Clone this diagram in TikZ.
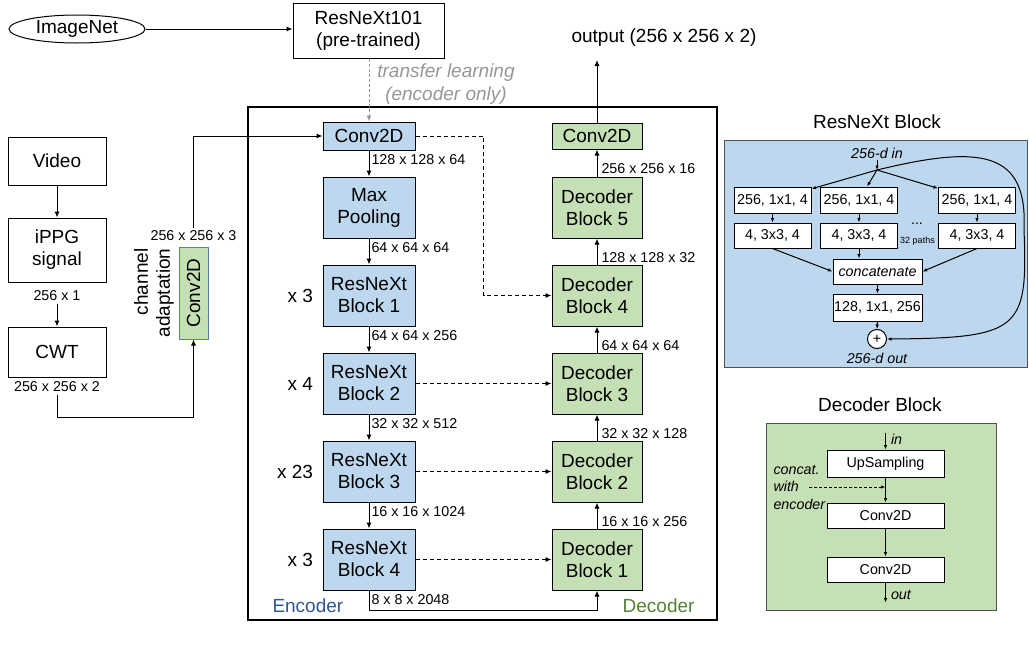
\documentclass[tikz,border=0pt]{standalone}
\usepackage{fontspec}
\setmainfont{Liberation Sans}
\usepackage{xcolor}
\usepackage{tikz}
\usetikzlibrary{arrows.meta}
\usetikzlibrary{positioning}
\usetikzlibrary{shapes.geometric}

\definecolor{blockblue}{RGB}{189,215,238}
\definecolor{blockgreen}{RGB}{197,224,180}
\definecolor{encodertext}{RGB}{47,85,151}
\definecolor{decodertext}{RGB}{84,130,53}
\definecolor{transfergray}{RGB}{150,150,150}
\definecolor{adaptborder}{RGB}{91,125,180}
\definecolor{panelborder}{RGB}{80,80,80}

\begin{document}
\begin{tikzpicture}[x=1pt, y=-1pt, line width=1pt, >={Latex[length=6pt,width=5pt]},
	bigtext/.style={font=\fontsize{19}{22}\selectfont},
	dimtext/.style={font=\fontsize{14.3}{17}\selectfont, inner sep=2pt},
	smalltext/.style={font=\fontsize{14.3}{17.5}\selectfont\itshape, inner sep=1pt},
	box/.style={rectangle, draw=black, bigtext, align=center, inner sep=0pt},
	encbox/.style={box, fill=blockblue, minimum width=92pt, minimum height=61pt},
	decbox/.style={box, fill=blockgreen, minimum width=90pt, minimum height=61pt},
	skiparrow/.style={->, dash pattern=on 4pt off 3pt},
	smallbox/.style={rectangle, draw=black, fill=white, font=\fontsize{14.3}{17}\selectfont, inner sep=0pt, minimum height=26pt},
	thinarrow/.style={->, >={Latex[length=4.5pt,width=3.5pt]}}]
	\useasboundingbox (0,0) rectangle (1029,656);

	\node[ellipse, draw=black, bigtext, minimum width=136pt, minimum height=28pt, inner sep=0pt] (imagenet) at (77,29) {ImageNet};
	\node[box, minimum width=151pt, minimum height=55pt] (pretrained) at (368.5,30.5) {ResNeXt101\\(pre-trained)};
	\draw[->] (imagenet) -- (pretrained.west |- imagenet);
	\node[font=\fontsize{19}{23}\selectfont\itshape, text=transfergray, align=center] (transfer) at (446,84) {transfer learning\\(encoder only)};

	\draw[line width=1.5pt] (248,107) rectangle (717,620);

	\node[encbox, minimum height=28pt] (conv1) at (369,136) {Conv2D};
	\node[encbox] (maxpool) at (369,207.5) {Max\\Pooling};
	\node[encbox] (res1) at (369,295.5) {ResNeXt\\Block 1};
	\node[encbox] (res2) at (369,383.5) {ResNeXt\\Block 2};
	\node[encbox] (res3) at (369,471.5) {ResNeXt\\Block 3};
	\node[encbox] (res4) at (369,559.5) {ResNeXt\\Block 4};

	\node[decbox, minimum height=26pt] (conv2) at (597,136) {Conv2D};
	\node[decbox] (dec5) at (597,207.5) {Decoder\\Block 5};
	\node[decbox] (dec4) at (597,295.5) {Decoder\\Block 4};
	\node[decbox] (dec3) at (597,383.5) {Decoder\\Block 3};
	\node[decbox] (dec2) at (597,471.5) {Decoder\\Block 2};
	\node[decbox] (dec1) at (597,559.5) {Decoder\\Block 1};

	\draw[->, transfergray, dash pattern=on 3pt off 2pt] (pretrained.south -| conv1) -- (conv1);

	\node[bigtext, inner sep=0pt, left=9pt of res1] (rep1) {x 3};
	\node[bigtext, inner sep=0pt, left=9pt of res2] (rep2) {x 4};
	\node[bigtext, inner sep=0pt, left=9pt of res3] (rep3) {x 23};
	\node[bigtext, inner sep=0pt, left=9pt of res4] (rep4) {x 3};

	\draw[->] (conv1) -- node[dimtext, right, pos=0.35] {128 x 128 x 64} (maxpool);
	\draw[->] (maxpool) -- node[dimtext, right, pos=0.35] {64 x 64 x 64} (res1);
	\draw[->] (res1) -- node[dimtext, right, pos=0.35] {64 x 64 x 256} (res2);
	\draw[->] (res2) -- node[dimtext, right, pos=0.35] {32 x 32 x 512} (res3);
	\draw[->] (res3) -- node[dimtext, right, pos=0.35] {16 x 16 x 1024} (res4);
	\draw[->] (res4.south) -- node[dimtext, right, pos=0.45] {8 x 8 x 2048} ++(0,20) -| (dec1.south);

	\draw[->] (dec1) -- node[dimtext, right, pos=0.28, xshift=2pt] {16 x 16 x 256} (dec2);
	\draw[->] (dec2) -- node[dimtext, right, pos=0.28, xshift=2pt] {32 x 32 x 128} (dec3);
	\draw[->] (dec3) -- node[dimtext, right, pos=0.28, xshift=2pt] {64 x 64 x 64} (dec4);
	\draw[->] (dec4) -- node[dimtext, right, pos=0.28, xshift=2pt] {128 x 128 x 32} (dec5);
	\draw[->] (dec5) -- node[dimtext, right, pos=0.28, xshift=2pt] {256 x 256 x 16} (conv2);

	\node[bigtext, inner sep=0pt] (output) at (664,38) {output (256 x 256 x 2)};
	\coordinate (outtip) at (597,60);
	\draw[->] (conv2) -- (outtip);

	\draw[skiparrow] (conv1.east) -- ++(68,0) |- (dec4);
	\draw[skiparrow] (res2) -- (dec3);
	\draw[skiparrow] (res3) -- (dec2);
	\draw[skiparrow] (res4) -- (dec1);

	\node[bigtext, text=encodertext, anchor=west, inner sep=0pt] (enclabel) at (272,606) {Encoder};
	\node[bigtext, text=decodertext, anchor=east, inner sep=0pt] (declabel) at (695,606) {Decoder};

	\node[box, minimum width=98pt, minimum height=48pt] (video) at (57,161) {Video};
	\node[box, minimum width=98pt, minimum height=64pt] (ippg) at (57,250) {iPPG\\signal};
	\node[dimtext] (ippgdim) at (57,296) {256 x 1};
	\node[box, minimum width=98pt, minimum height=50pt] (cwt) at (57,352) {CWT};
	\node[dimtext] (cwtdim) at (57,387) {256 x 256 x 2};
	\draw[->] (video) -- (ippg);
	\draw[->] (ippgdim) -- (cwt);

	\node[box, fill=blockgreen, draw=adaptborder, rotate=90, minimum width=92pt, minimum height=29pt] (adaptconv) at (193.5,293) {Conv2D};
	\node[bigtext, rotate=90, align=right, inner sep=0pt] (adaptlabel) at (154,293) {channel\\adaptation};
	\node[dimtext] (adaptdim) at (193.5,236) {256 x 256 x 3};
	\draw[->] (cwtdim) -- ++(0,30) -| (adaptconv);
	\draw[->] (adaptdim) |- (conv1);

	\node[bigtext] (resnexttitle) at (877,122) {ResNeXt Block};
	\node[draw=panelborder, fill=blockblue, minimum width=303pt, minimum height=227pt, inner sep=0pt] (resnextpanel) at (875.5,253.5) {};
	\node[smalltext] (dimin) at (877,153) {256-d in};
	\coordinate (split) at (877,170);
	\draw[thinarrow] (dimin) -- (split);
	\node[smallbox, minimum width=77pt] (pathA1) at (772.5,200) {256, 1x1, 4};
	\node[smallbox, minimum width=77pt] (pathB1) at (859,200) {256, 1x1, 4};
	\node[smallbox, minimum width=77pt] (pathC1) at (977,200) {256, 1x1, 4};
	\node[smallbox, minimum width=77pt, minimum height=25pt] (pathA2) at (772.5,235.5) {4, 3x3, 4};
	\node[smallbox, minimum width=77pt, minimum height=25pt] (pathB2) at (859,235.5) {4, 3x3, 4};
	\node[smallbox, minimum width=77pt, minimum height=25pt] (pathC2) at (977,235.5) {4, 3x3, 4};
	\node[font=\fontsize{14.3}{17}\selectfont, inner sep=0pt] (pathdots) at (917,224) {...};
	\node[font=\fontsize{9}{10}\selectfont, inner sep=0pt] (pathcount) at (917.5,241) {32 paths};
	\draw[thinarrow] (split) -- (pathA1);
	\draw[thinarrow] (split) -- (pathB1);
	\draw[thinarrow] (split) -- (pathC1);
	\draw[thinarrow] (pathA1) -- (pathA2);
	\draw[thinarrow] (pathB1) -- (pathB2);
	\draw[thinarrow] (pathC1) -- (pathC2);
	\node[smallbox, minimum width=89pt, minimum height=25pt, font=\fontsize{14.3}{17}\selectfont\itshape] (concat) at (877.5,271.5) {concatenate};
	\draw[thinarrow] (pathA2.south) -- (concat.west);
	\draw[thinarrow] (pathB2) -- (pathB2 |- concat.north);
	\draw[thinarrow] (pathC2.south) -- (concat.east);
	\node[smallbox, minimum width=89pt, minimum height=27pt] (expand) at (877.5,307.5) {128, 1x1, 256};
	\draw[thinarrow] (concat) -- (expand);
	\node[circle, draw=black, fill=white, minimum size=19pt, inner sep=0pt, font=\fontsize{14.3}{17}\selectfont] (plus) at (877,339) {+};
	\draw[thinarrow] (expand) -- (plus);
	\node[smalltext] (dimout) at (877,358) {256-d out};
	\draw[thinarrow] (split) .. controls (980,145) and (1028,150) .. (1024,230) .. controls (1028,330) and (1020,338) .. (plus.east);

	\node[bigtext] (decodertitle) at (880,405) {Decoder Block};
	\node[draw=panelborder, fill=blockgreen, minimum width=230pt, minimum height=187pt, inner sep=0pt] (decoderpanel) at (881,516.5) {};
	\node[smallbox, minimum width=117pt, minimum height=27pt] (upsampling) at (885.5,463.5) {UpSampling};
	\node[smallbox, minimum width=117pt, minimum height=25pt] (blockconv1) at (885.5,515.5) {Conv2D};
	\node[smallbox, minimum width=117pt, minimum height=25pt] (blockconv2) at (885.5,569.5) {Conv2D};
	\draw[thinarrow] (upsampling.north) ++(0,-17) -- node[smalltext, right, pos=0.4, xshift=4pt] {in} (upsampling);
	\draw[thinarrow] (upsampling) -- (blockconv1);
	\draw[thinarrow] (blockconv1) -- (blockconv2);
	\draw[thinarrow] (blockconv2.south) -- node[smalltext, right, pos=0.6, xshift=4pt] {out} ++(0,20);
	\node[smalltext, align=left, anchor=west] (concatnote) at (772,487) {concat.\\with\\encoder};
	\coordinate (catstart) at (809,487);
	\draw[thinarrow, dash pattern=on 3pt off 2pt] (catstart) -- (catstart -| upsampling);
\end{tikzpicture}
\end{document}
